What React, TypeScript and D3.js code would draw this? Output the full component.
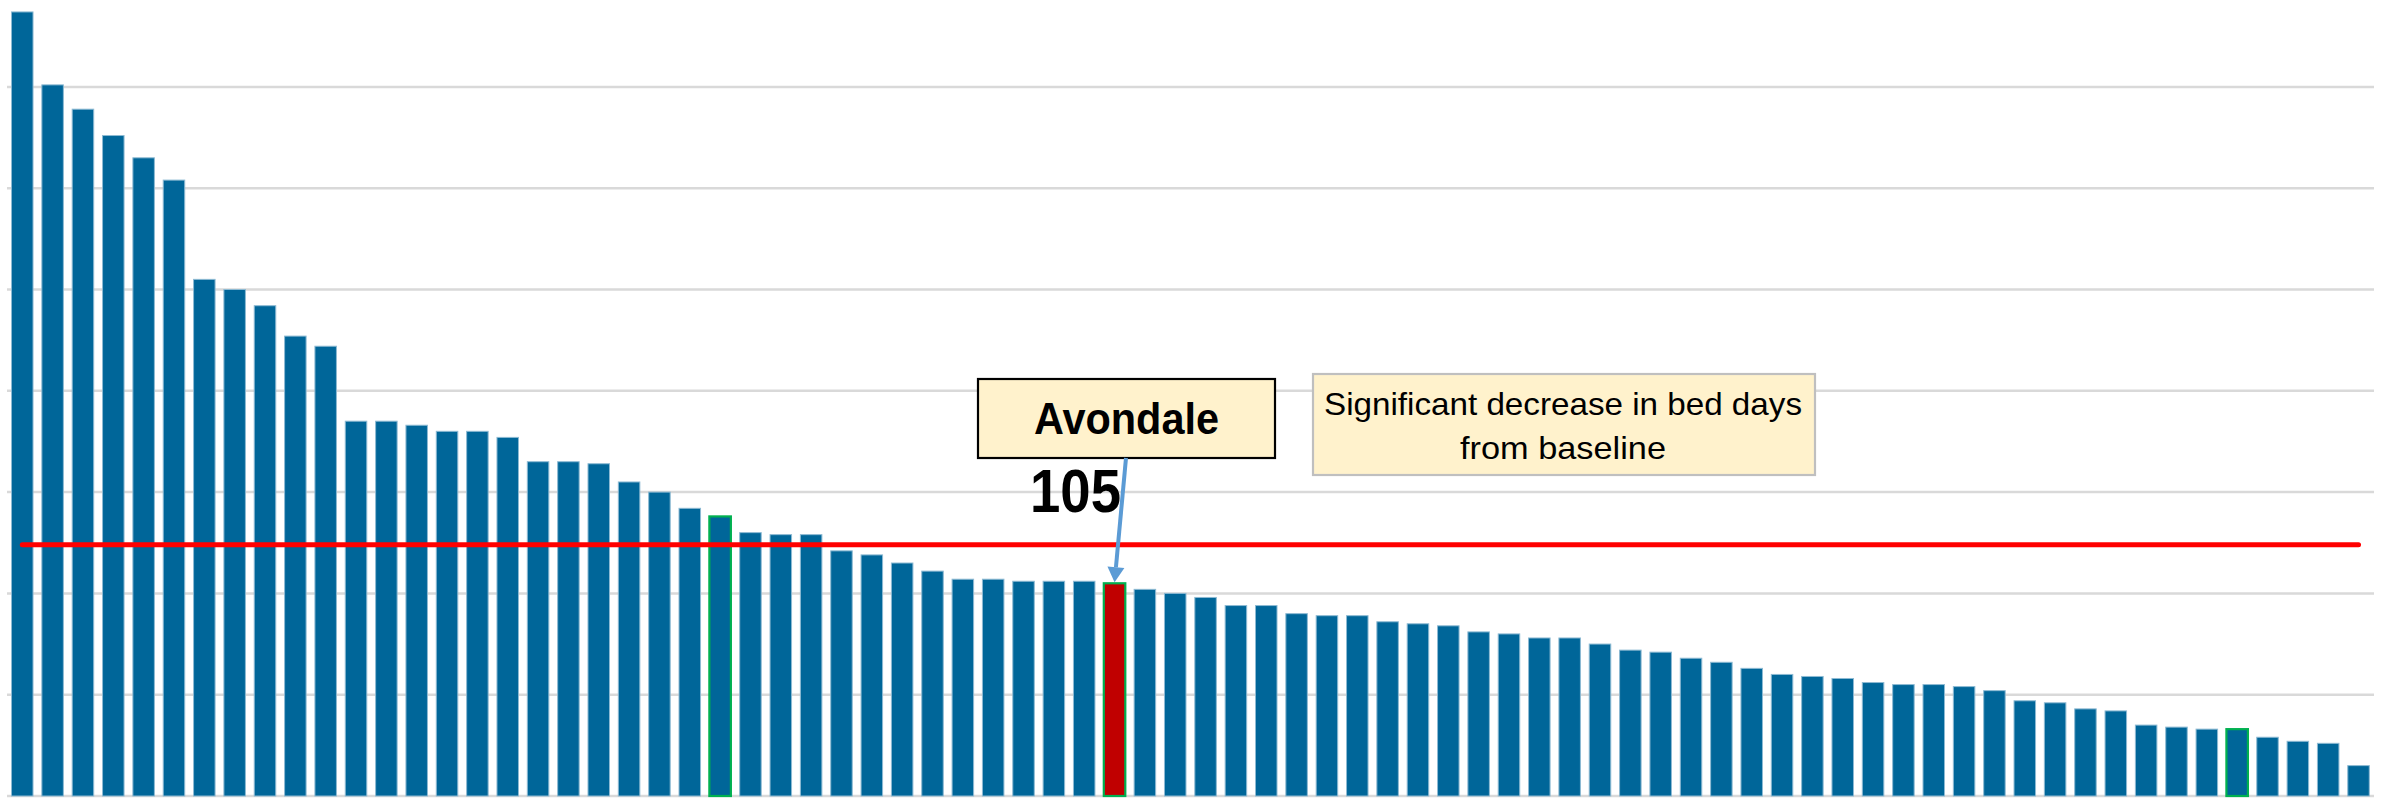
import React from "react";
import * as d3 from "d3";

// ---- data ----
const categories: string[] = Array.from({ length: 78 }, (_, i) => `Site ${i + 1}`);
const bedDays: number[] = [
  387, 351, 339, 326, 315, 304, 255, 250, 242, 227, 222, 185, 185, 183, 180, 180,
  177, 165, 165, 164, 155, 150, 142, 138, 130, 129, 129, 121, 119, 115, 111, 107,
  107, 106, 106, 106, 105, 102, 100, 98, 94, 94, 90, 89, 89, 86, 85, 84,
  81, 80, 78, 78, 75, 72, 71, 68, 66, 63, 60, 59, 58, 56, 55, 55,
  54, 52, 47, 46, 43, 42, 35, 34, 33, 33, 29, 27, 26, 15,
];
const highlightIndex = 36; // Avondale
const outlinedIndices: number[] = [23, 36, 73];
const baselineValue = 124;
const gridTicks: number[] = [0, 50, 100, 150, 200, 250, 300, 350];
const highlightName = "Avondale";
const highlightLabel = "105";
const noteLines: string[] = ["Significant decrease in bed days", "from baseline"];

const W = 2386;
const H = 801;
const FONT = "'Liberation Sans Narrow', 'Liberation Sans', 'Open Sans', sans-serif";

export default function App() {
  const x = d3
    .scaleBand<number>()
    .domain(categories.map((_, i) => i))
    .range([7.1, 2373.7])
    .paddingInner(0.291)
    .paddingOuter(0.1455);
  const y = d3.scaleLinear().domain([0, 400]).range([796, 796 - 400 * 2.026]);

  const bw = x.bandwidth();
  const cx = (i: number) => (x(i) as number) + bw / 2;

  // arrow geometry
  const ax0 = 1126;
  const ay0 = 458;
  const ax1 = cx(highlightIndex);
  const ay1 = y(bedDays[highlightIndex]) - 1;
  const dx = ax1 - ax0;
  const dy = ay1 - ay0;
  const len = Math.sqrt(dx * dx + dy * dy);
  const ux = dx / len;
  const uy = dy / len;
  const headLen = 15;
  const headW = 8.5;
  const bx = ax1 - ux * headLen;
  const by = ay1 - uy * headLen;
  const head = `${ax1},${ay1} ${bx - uy * headW},${by + ux * headW} ${bx + uy * headW},${by - ux * headW}`;

  return (
    <svg
      width={W}
      height={H}
      style={{ position: "absolute", left: 0, top: 0, display: "block", background: "#fff" }}
    >
      {gridTicks.map((t) => (
        <line key={t} x1={7} x2={2374} y1={y(t)} y2={y(t)} stroke="#D9D9D9" strokeWidth={2.5} />
      ))}
      {bedDays.map((v, i) => {
        const outlined = outlinedIndices.includes(i);
        return (
          <rect
            key={i}
            x={x(i) as number}
            y={y(v)}
            width={bw}
            height={y(0) - y(v)}
            fill={i === highlightIndex ? "#C00000" : "#006699"}
            stroke={outlined ? "#00B050" : "#8DBAD3"}
            strokeWidth={outlined ? 2.2 : 1}
          />
        );
      })}
      <line
        x1={cx(0)}
        x2={cx(bedDays.length - 1)}
        y1={y(baselineValue)}
        y2={y(baselineValue)}
        stroke="#FF0000"
        strokeWidth={5}
        strokeLinecap="round"
      />
      {/* Avondale label box */}
      <rect x={978} y={379} width={297} height={79} fill="#FFF2CC" stroke="#000" strokeWidth={2.2} />
      <text
        x={1126.5}
        y={434}
        textAnchor="middle"
        fontFamily={FONT}
        fontWeight="bold"
        fontSize={44}
        textLength={185}
        lengthAdjust="spacingAndGlyphs"
        fill="#000"
      >
        {highlightName}
      </text>
      <text
        x={1030}
        y={511.5}
        fontFamily={FONT}
        fontWeight="bold"
        fontSize={62}
        textLength={91}
        lengthAdjust="spacingAndGlyphs"
        fill="#000"
      >
        {highlightLabel}
      </text>
      {/* note box */}
      <rect x={1313} y={374} width={502} height={101} fill="#FFF2CC" stroke="#BFBFBF" strokeWidth={2.2} />
      <text
        x={1563}
        y={414.5}
        textAnchor="middle"
        fontFamily={FONT}
        fontSize={30.5}
        textLength={478}
        lengthAdjust="spacingAndGlyphs"
        fill="#000"
      >
        {noteLines[0]}
      </text>
      <text
        x={1563}
        y={459}
        textAnchor="middle"
        fontFamily={FONT}
        fontSize={30.5}
        textLength={206}
        lengthAdjust="spacingAndGlyphs"
        fill="#000"
      >
        {noteLines[1]}
      </text>
      {/* arrow */}
      <line x1={ax0} y1={ay0} x2={bx} y2={by} stroke="#5B9BD5" strokeWidth={4} />
      <polygon points={head} fill="#5B9BD5" />
    </svg>
  );
}
